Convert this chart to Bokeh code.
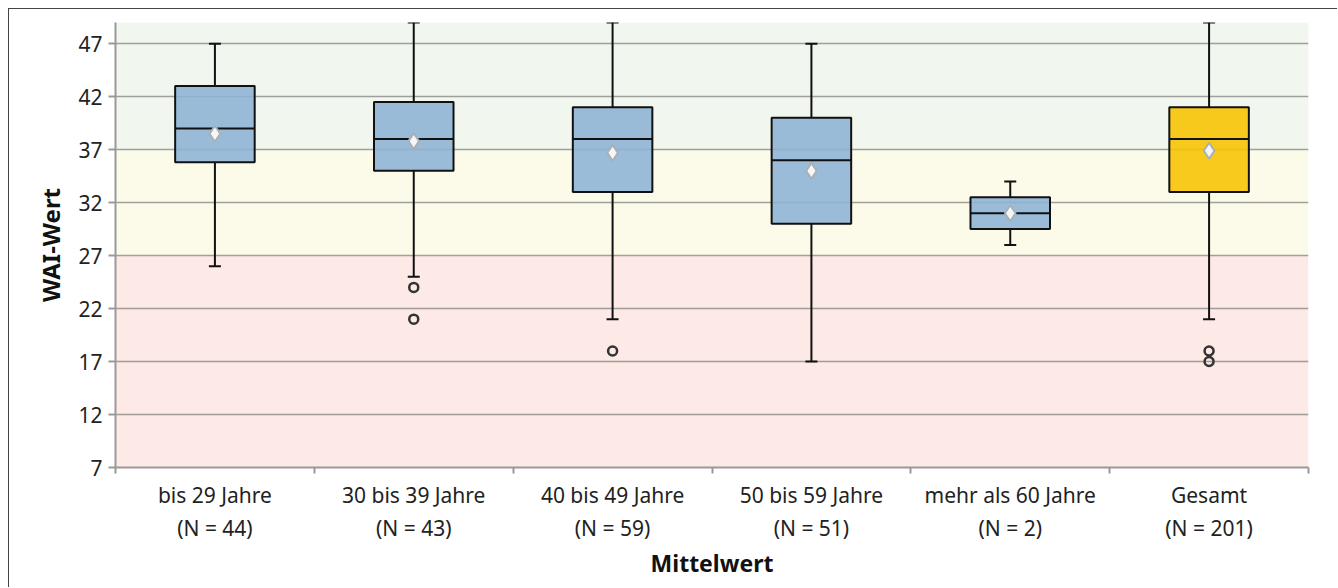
from bokeh.plotting import figure
from bokeh.models import Range1d, FixedTicker, BoxAnnotation, ColumnDataSource
from bokeh.embed import file_html
from bokeh.resources import INLINE

# ---- data ----
categories = ["bis 29 Jahre\n(N = 44)", "30 bis 39 Jahre\n(N = 43)", "40 bis 49 Jahre\n(N = 59)",
              "50 bis 59 Jahre\n(N = 51)", "mehr als 60 Jahre\n(N = 2)", "Gesamt\n(N = 201)"]
whisker_low = [26, 25, 21, 17, 28, 21]
q1 = [35.8, 35, 33, 30, 29.5, 33]
median = [39, 38, 38, 36, 31, 38]
q3 = [43, 41.5, 41, 40, 32.5, 41]
whisker_high = [47, 49, 49, 47, 34, 49]
mean = [38.5, 37.8, 36.7, 35, 31, 36.9]
outlier_group = [1, 1, 2, 5, 5]
outlier_value = [24, 21, 18, 18, 17]
box_colors = ["#8db3d5", "#8db3d5", "#8db3d5", "#8db3d5", "#8db3d5", "#f7c300"]
y_ticks = [7, 12, 17, 22, 27, 32, 37, 42, 47]
band_edges = [7, 27, 37, 49]
band_colors = ["#fde9e6", "#fcfbe9", "#f1f7ee"]

n = len(categories)
xc = [i + 0.5 for i in range(n)]
bw = 0.4

p = figure(width=1329, height=579, output_backend="svg", toolbar_location=None,
           x_range=Range1d(0, n), y_range=Range1d(band_edges[0], band_edges[-1]),
           min_border_left=106, min_border_top=13, min_border_right=30, min_border_bottom=121)
p.styles = {"margin-left": "8px", "margin-top": "8px",
            "border-left": "1px solid #444", "border-top": "1px solid #444"}
p.outline_line_color = None
p.background_fill_color = "white"

for b0, b1, c in zip(band_edges[:-1], band_edges[1:], band_colors):
    p.add_layout(BoxAnnotation(bottom=b0, top=b1, fill_color=c, fill_alpha=1.0,
                               line_color=None, level="image"))

src = ColumnDataSource(dict(x=xc, lo=whisker_low, q1=q1, med=median, q3=q3, hi=whisker_high,
                            mean=mean, color=box_colors,
                            x0=[x - bw / 2 for x in xc], x1=[x + bw / 2 for x in xc]))

# whiskers
p.segment(x0="x", y0="lo", x1="x", y1="q1", source=src, line_color="#111111", line_width=2)
p.segment(x0="x", y0="q3", x1="x", y1="hi", source=src, line_color="#111111", line_width=2)
p.scatter(x="x", y="lo", source=src, marker="dash", size=12, line_color="#111111", line_width=2)
p.scatter(x="x", y="hi", source=src, marker="dash", size=12, line_color="#111111", line_width=2)

# boxes
p.vbar(x="x", width=bw, bottom="q1", top="q3", source=src, fill_color="color",
       fill_alpha=0.88, line_color="#111111", line_width=2)
p.segment(x0="x0", y0="med", x1="x1", y1="med", source=src, line_color="#111111", line_width=2)

# means
p.scatter(x="x", y="mean", source=src, marker="diamond", size=16, fill_color="#f4f6f7",
          line_color="#a8b0b6", line_width=2)

# outliers
p.scatter(x=[xc[g] for g in outlier_group], y=outlier_value, marker="circle", size=9,
          fill_color=None, line_color="#333333", line_width=2.5)

# axes
p.xaxis.ticker = FixedTicker(ticks=xc, minor_ticks=list(range(n + 1)))
p.xaxis.major_label_overrides = {x: c for x, c in zip(xc, categories)}
p.xaxis.major_tick_line_color = None
p.xaxis.minor_tick_line_color = "#999999"
p.xaxis.minor_tick_line_width = 2
p.xaxis.minor_tick_out = 6
p.xaxis.minor_tick_in = 0
p.xaxis.axis_line_color = "#999999"
p.xaxis.axis_line_width = 2
p.xaxis.major_label_text_font = "Noto Sans"
p.xaxis.major_label_text_font_size = "21px"
p.xaxis.major_label_text_color = "#222222"
p.xaxis.major_label_standoff = 7
p.xaxis.axis_label = "Mittelwert"
p.xaxis.axis_label_text_font = "Noto Sans"
p.xaxis.axis_label_text_font_size = "23px"
p.xaxis.axis_label_text_font_style = "bold"
p.xaxis.axis_label_text_color = "#111111"
p.xaxis.axis_label_standoff = 2

p.yaxis.ticker = FixedTicker(ticks=y_ticks, minor_ticks=[])
p.yaxis.axis_line_color = "#999999"
p.yaxis.axis_line_width = 2
p.yaxis.major_tick_line_color = "#999999"
p.yaxis.major_tick_line_width = 2
p.yaxis.major_tick_out = 7
p.yaxis.major_tick_in = 0
p.yaxis.major_label_text_font = "Noto Sans"
p.yaxis.major_label_text_font_size = "21px"
p.yaxis.major_label_text_color = "#222222"
p.yaxis.major_label_standoff = 6
p.yaxis.axis_label = "WAI-Wert"
p.yaxis.axis_label_text_font = "Noto Sans"
p.yaxis.axis_label_text_font_size = "24px"
p.yaxis.axis_label_text_font_style = "bold"
p.yaxis.axis_label_text_color = "#111111"
p.yaxis.axis_label_standoff = 8

p.xgrid.grid_line_color = None
p.ygrid.grid_line_color = "#7a7a7a"
p.ygrid.grid_line_alpha = 0.7
p.ygrid.grid_line_width = 1.5

open("out.html", "w").write(file_html(p, INLINE))
